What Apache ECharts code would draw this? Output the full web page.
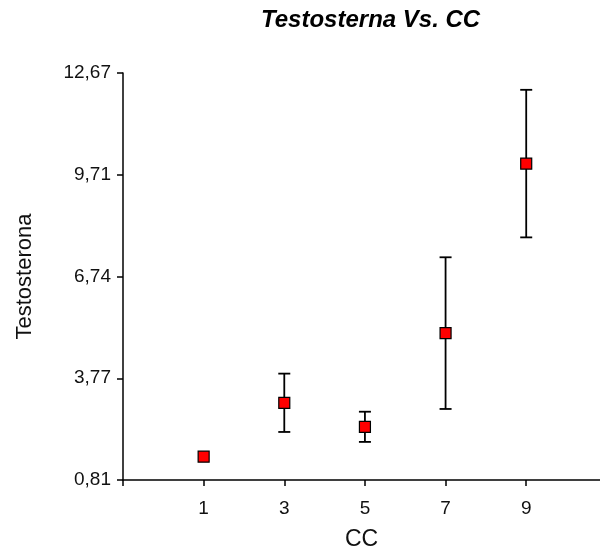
<!DOCTYPE html>
<html>
<head>
<meta charset="utf-8">
<script src="https://cdn.jsdelivr.net/npm/echarts@6/dist/echarts.min.js"></script>
<style>
html,body{margin:0;padding:0;background:#fff;}
#chart{width:600px;height:556px;}
</style>
</head>
<body>
<div id="chart"></div>
<script>
// ---- data ----
var xValues = [1, 3, 5, 7, 9];
var yMeans = [1.49, 3.06, 2.36, 5.09, 10.03];
var yErrors = [0, 0.85, 0.44, 2.21, 2.15];
var yTickLabels = ['0,81', '3,77', '6,74', '9,71', '12,67'];
var xTickLabels = ['1', '3', '5', '7', '9'];
var xTickValues = [-1, 1, 3, 5, 7, 9];
var yMin = 0.81, yMax = 12.67, yStep = 2.965;

var points = xValues.map(function (x, i) { return [x, yMeans[i]]; });
var bars = xValues.map(function (x, i) { return [x, yMeans[i], yErrors[i]]; });

var chart = echarts.init(document.getElementById('chart'), null, {renderer: 'canvas'});
var font = 'Liberation Sans, Arial, sans-serif';

chart.setOption({
  animation: false,
  backgroundColor: '#fff',
  title: {
    text: 'Testosterna Vs. CC',
    left: 256,
    top: 3,
    textStyle: {fontFamily: font, fontSize: 24, fontWeight: 'bold', fontStyle: 'italic', color: '#000'}
  },
  grid: {left: 123, right: 0, top: 73, bottom: 73},
  xAxis: {
    type: 'value',
    min: -1, max: 10.83, interval: 2,
    name: 'CC',
    nameLocation: 'middle',
    nameGap: 48,
    nameTextStyle: {fontFamily: font, fontSize: 23, color: '#111'},
    axisLine: {show: true, onZero: false, lineStyle: {color: '#000', width: 1.5}},
    axisTick: {show: true, length: 6, customValues: xTickValues, lineStyle: {color: '#000', width: 1.5}},
    axisLabel: {
      margin: 19,
      fontFamily: font, fontSize: 19, color: '#111',
      customValues: xValues,
      formatter: function (v) {
        var i = xValues.indexOf(Math.round(v));
        return i >= 0 ? xTickLabels[i] : '';
      }
    },
    splitLine: {show: false}
  },
  yAxis: {
    type: 'value',
    min: yMin, max: yMax, interval: yStep,
    name: 'Testosterona',
    nameLocation: 'middle',
    nameRotate: 90,
    nameGap: 87,
    nameTextStyle: {fontFamily: font, fontSize: 22, color: '#111'},
    axisLine: {show: true, onZero: false, lineStyle: {color: '#000', width: 1.5}},
    axisTick: {show: true, length: 6, lineStyle: {color: '#000', width: 1.5}},
    axisLabel: {
      margin: 12,
      fontFamily: font, fontSize: 19, color: '#111',
      formatter: function (v) {
        var i = Math.round((v - yMin) / yStep);
        return yTickLabels[i] || '';
      }
    },
    splitLine: {show: false}
  },
  series: [
    {
      type: 'custom',
      z: 1,
      data: bars,
      renderItem: function (params, api) {
        var x = api.value(0), y = api.value(1), e = api.value(2);
        if (!e) return null;
        var top = api.coord([x, y + e]);
        var bot = api.coord([x, y - e]);
        var hw = 6;
        var st = {stroke: '#000', lineWidth: 1.8};
        return {
          type: 'group',
          children: [
            {type: 'line', shape: {x1: top[0], y1: top[1], x2: bot[0], y2: bot[1]}, style: st},
            {type: 'line', shape: {x1: top[0] - hw, y1: top[1], x2: top[0] + hw, y2: top[1]}, style: st},
            {type: 'line', shape: {x1: bot[0] - hw, y1: bot[1], x2: bot[0] + hw, y2: bot[1]}, style: st}
          ]
        };
      }
    },
    {
      type: 'scatter',
      z: 2,
      data: points,
      symbol: 'rect',
      symbolSize: 11,
      itemStyle: {color: '#ff0000', borderColor: '#000', borderWidth: 1.2, opacity: 1}
    }
  ]
});
</script>
</body>
</html>
